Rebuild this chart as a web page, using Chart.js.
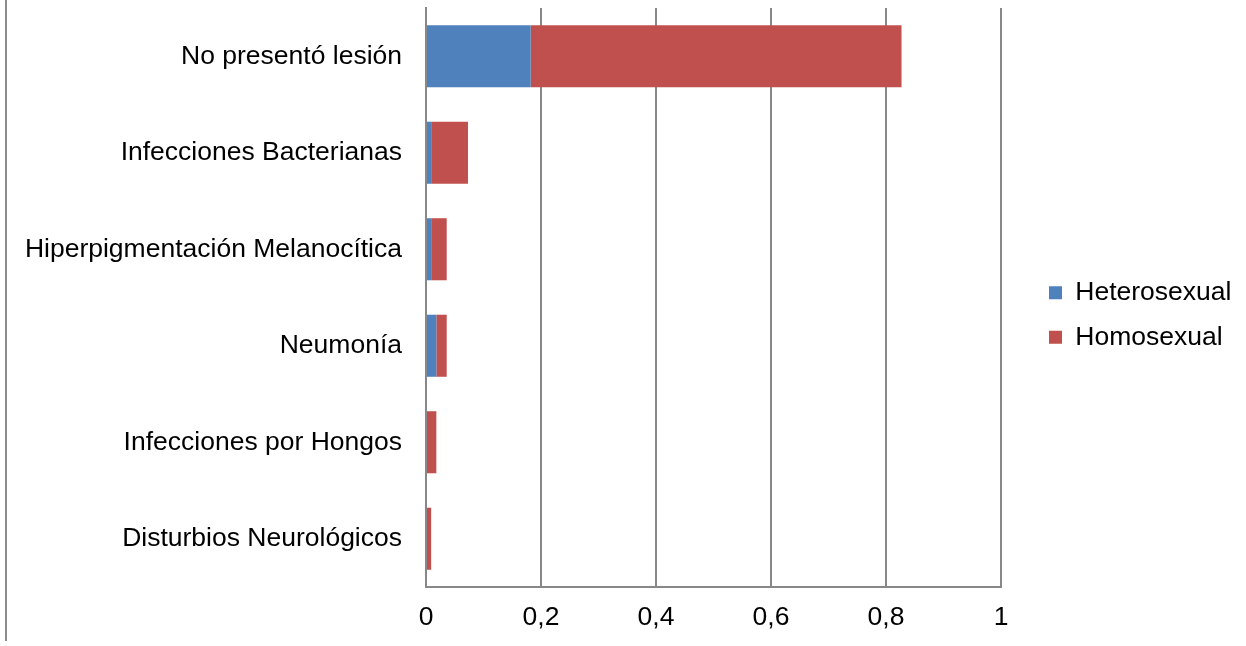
<!DOCTYPE html>
<html>
<head>
<meta charset="utf-8">
<script src="https://cdn.jsdelivr.net/npm/chart.js@4/dist/chart.umd.min.js"></script>
<style>
  html, body { margin: 0; padding: 0; background: #ffffff; }
  #wrap { position: relative; width: 1246px; height: 646px; overflow: hidden; }
  #frame { position: absolute; left: 5px; top: 0; width: 2px; height: 641px; background: #8c8c8c; }
  canvas { position: absolute; left: 0; top: 0; }
</style>
</head>
<body>
<div id="wrap">
  <canvas id="chart" width="1246" height="646"></canvas>
  <div id="frame"></div>
</div>
<script>
// Lesiones observadas por orientación sexual (proporción del total)
const categories = [
  'No presentó lesión',
  'Infecciones Bacterianas',
  'Hiperpigmentación Melanocítica',
  'Neumonía',
  'Infecciones por Hongos',
  'Disturbios Neurológicos'
];
const heterosexual = [0.182, 0.009, 0.009, 0.018, 0, 0];
const homosexual   = [0.645, 0.064, 0.027, 0.018, 0.018, 0.009];
const seriesNames  = ['Heterosexual', 'Homosexual'];
const xMin = 0, xMax = 1, xStep = 0.2;

const FONT = "'Liberation Sans', Arial, sans-serif";
const FONT_SIZE = 26.5;
const GRID = '#888888';

// Places the legend block to the right of the plot, vertically centred.
const legendPlacement = {
  id: 'legendPlacement',
  afterLayout(chart) {
    const lg = chart.legend;
    const area = chart.chartArea;
    const w = lg.width;
    lg.left = area.right + 30;
    lg.right = lg.left + w;
    lg.top = 0;
    lg.bottom = 630;
  }
};

new Chart(document.getElementById('chart'), {
  type: 'bar',
  data: {
    labels: categories,
    datasets: [
      { label: seriesNames[0], data: heterosexual, backgroundColor: '#4F81BD', borderWidth: 0 },
      { label: seriesNames[1], data: homosexual,   backgroundColor: '#C0504D', borderWidth: 0 }
    ]
  },
  options: {
    indexAxis: 'y',
    responsive: false,
    animation: false,
    devicePixelRatio: 1,
    layout: { padding: { left: 0, right: 245, top: 8, bottom: 0 } },
    datasets: { bar: { categoryPercentage: 1, barPercentage: 0.643 } },
    scales: {
      x: {
        stacked: true,
        min: xMin,
        max: xMax,
        afterFit(scale) { scale.height = 59; },
        ticks: {
          stepSize: xStep,
          padding: 15,
          color: '#000000',
          font: { family: FONT, size: FONT_SIZE },
          callback: (v) => String(Number(v.toFixed(1))).replace('.', ',')
        },
        grid: { color: GRID, lineWidth: 2, drawTicks: false },
        border: { color: GRID, width: 2 }
      },
      y: {
        stacked: true,
        z: 1,
        afterFit(scale) {
          scale.width = 426;
          // category labels sit inside their bands, no extra room needed above/below
          scale.paddingTop = 0;
          scale.paddingBottom = 0;
        },
        ticks: {
          padding: 24,
          color: '#000000',
          font: { family: FONT, size: FONT_SIZE }
        },
        grid: { display: false, drawTicks: false },
        border: { color: GRID, width: 2 }
      }
    },
    plugins: {
      tooltip: { enabled: false },
      legend: {
        position: 'chartArea',
        labels: {
          boxWidth: 13,
          boxHeight: 13,
          padding: 18,
          textAlign: 'left',
          color: '#000000',
          font: { family: FONT, size: FONT_SIZE }
        }
      }
    }
  },
  plugins: [legendPlacement]
});
</script>
</body>
</html>
